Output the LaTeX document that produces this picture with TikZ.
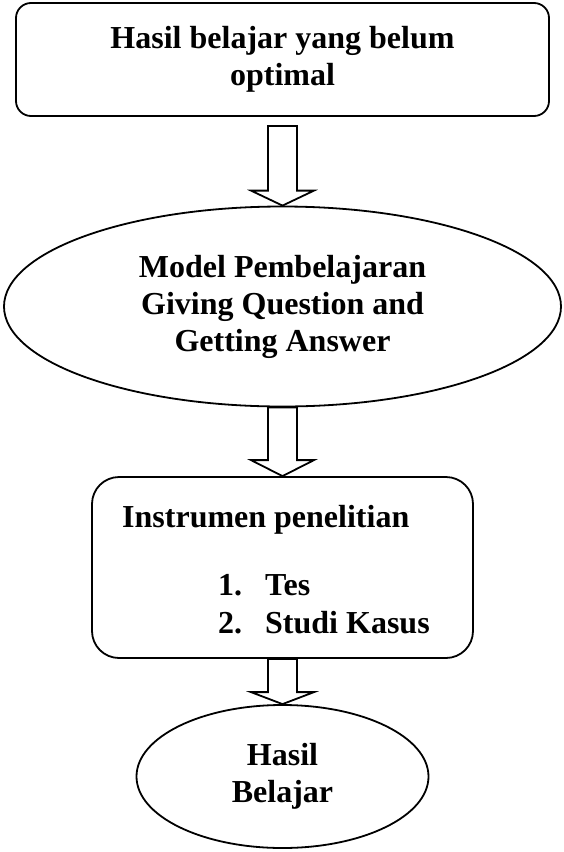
\documentclass[tikz,border=0pt]{standalone}
\usepackage{fontspec}
\setmainfont{Liberation Serif}
\usetikzlibrary{shapes.geometric,calc}
\tikzset{
  x=1pt,y=-1pt,
  every node/.style={font=\bfseries\fontsize{32}{37}\selectfont, inner sep=0pt},
  roundbox/.style={draw, line width=1.8pt, rectangle},
  oval/.style={draw, line width=1.8pt, ellipse, align=center},
  barrow/.style={draw, line width=1.8pt, line join=miter},
  lbl/.style={anchor=base west}
}
\newcommand\hollowarrow[3]{%
  \draw[barrow] let \p1=(#1), \p2=(#2) in
    (\x2-14.5pt,\y1) -- (\x2-14.5pt,\y2+#3) -- (\x2-31.5pt,\y2+#3) -- (\x2,\y2)
    -- (\x2+31.5pt,\y2+#3) -- (\x2+14.5pt,\y2+#3) -- (\x2+14.5pt,\y1) -- cycle;}
\begin{document}
\begin{tikzpicture}
\useasboundingbox (0,0) rectangle (563,852);
\node[roundbox, rounded corners=15pt, minimum width=533pt, minimum height=113pt, align=center]
  (b1) at (282.5,59.5) {Hasil belajar yang belum\\optimal};
\node[oval, minimum width=557pt, minimum height=200pt]
  (e2) at (282.5,306.5) {Model Pembelajaran\\Giving Question and\\Getting Answer};
\node[roundbox, rounded corners=27pt, minimum width=381pt, minimum height=181pt]
  (b3) at (282.5,567.5) {};
\node[oval, minimum width=292pt, minimum height=143pt]
  (e4) at (282.5,776.5) {Hasil\\Belajar};
\node[lbl] (t0) at (122,527) {Instrumen penelitian};
\node[lbl] (n1) at (218,595) {1.};
\node[lbl] (t1) at (265,595) {Tes};
\node[lbl] (n2) at (218,633) {2.};
\node[lbl] (t2) at (265,633) {Studi Kasus};
\coordinate (a1s) at ($(b1.south)+(0,9)$);
\hollowarrow{a1s}{e2.north}{15pt}
\hollowarrow{e2.south}{b3.north}{16pt}
\hollowarrow{b3.south}{e4.north}{12pt}
\end{tikzpicture}
\end{document}
